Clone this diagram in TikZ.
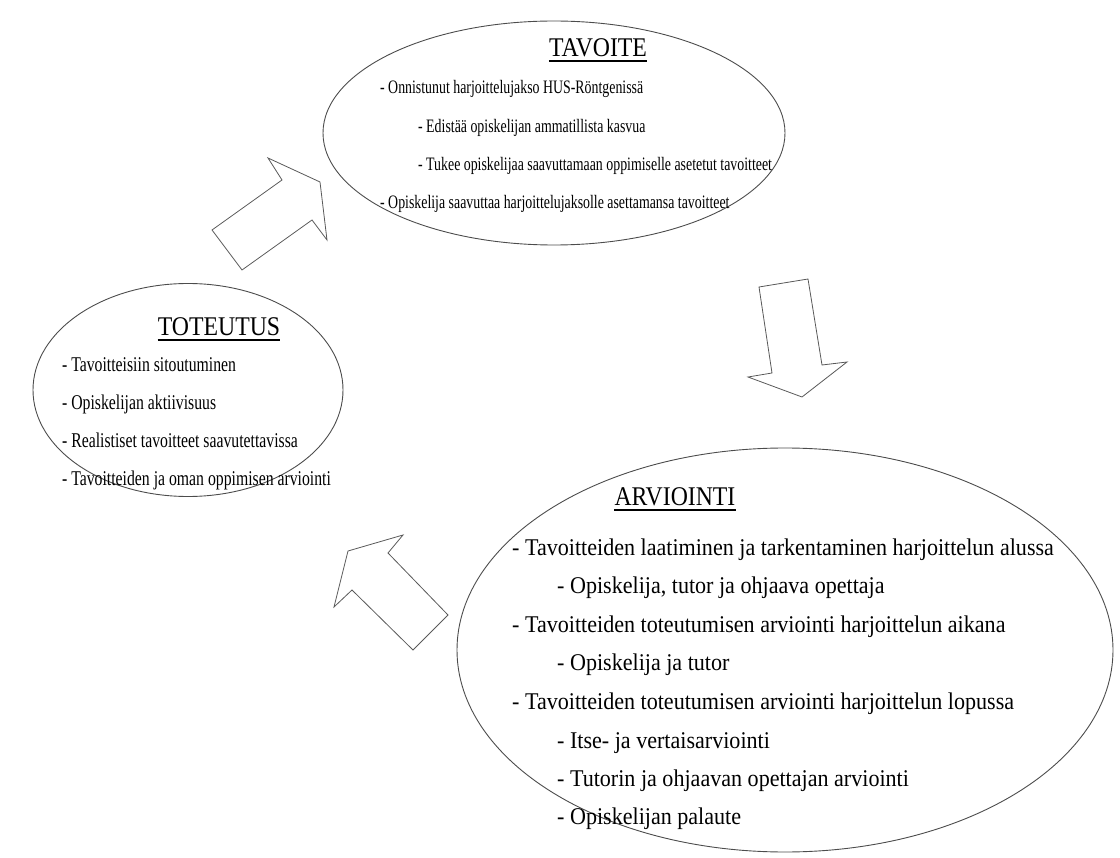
\documentclass[tikz,border=0pt]{standalone}
\usepackage{fontspec}
\setmainfont{Liberation Serif}
\usetikzlibrary{shapes.geometric}

\begin{document}
\begin{tikzpicture}[x=1pt,y=-1pt]
  \useasboundingbox (0,0) rectangle (1120,858);

  \begin{scope}[every node/.style={ellipse,draw=black!70,line width=0.9pt,inner sep=0pt}]
    \node (tav) at (554,133) [minimum width=462,minimum height=224] {};
    \node (tot) at (188,390) [minimum width=310,minimum height=213] {};
    \node (arv) at (785,650) [minimum width=656,minimum height=404] {};
  \end{scope}

  % block arrows
  \begin{scope}[draw=black!65,line width=0.8pt,line join=miter]
    \draw (212,230) -- (282,180) -- (268,158) -- (320,182) -- (327,240) -- (312,220) -- (242,270) -- cycle;
    \draw (759,287) -- (808,279) -- (822,365) -- (847,362) -- (802,397) -- (748,377) -- (772,373) -- cycle;
    \draw (403,535) -- (348,551) -- (334,607) -- (352,590) -- (413,650) -- (448,615) -- (388,553) -- cycle;
  \end{scope}

  \begin{scope}[every node/.style={anchor=base,inner sep=0pt,xscale=0.88,font=\fontsize{27}{27}\selectfont}]
    \node (tavt) at (598,57) {TAVOITE};
    \node (tott) at (219,336) {TOTEUTUS};
    \node (arvt) at (675,506) {ARVIOINTI};
  \end{scope}
  % title underlines
  \foreach \t in {tavt,tott,arvt}
    \draw[line width=1.2pt] ([yshift=-4pt]\t.base west) -- ([yshift=-4pt]\t.base east);

  \begin{scope}[every node/.style={anchor=base west,inner sep=0pt,xscale=0.73,font=\fontsize{19}{19}\selectfont}]
    \node (tav1) at (380,94)  {- Onnistunut harjoittelujakso HUS-Röntgenissä};
    \node (tav2) at (418,133) {- Edistää opiskelijan ammatillista kasvua};
    \node (tav3) at (418,171) {- Tukee opiskelijaa saavuttamaan oppimiselle asetetut tavoitteet};
    \node (tav4) at (380,209) {- Opiskelija saavuttaa harjoittelujaksolle asettamansa tavoitteet};
  \end{scope}

  \begin{scope}[every node/.style={anchor=base west,inner sep=0pt,xscale=0.75,font=\fontsize{21}{21}\selectfont}]
    \node (tot1) at (62,372) {- Tavoitteisiin sitoutuminen};
    \node (tot2) at (62,410) {- Opiskelijan aktiivisuus};
    \node (tot3) at (62,448) {- Realistiset tavoitteet saavutettavissa};
    \node (tot4) at (62,486) {- Tavoitteiden ja oman oppimisen arviointi};
  \end{scope}

  \begin{scope}[every node/.style={anchor=base west,inner sep=0pt,xscale=0.92,font=\fontsize{24}{24}\selectfont}]
    \node (arv1) at (512,555) {- Tavoitteiden laatiminen ja tarkentaminen harjoittelun alussa};
    \node (arv2) at (557,593) {- Opiskelija, tutor ja ohjaava opettaja};
    \node (arv3) at (512,632) {- Tavoitteiden toteutumisen arviointi harjoittelun aikana};
    \node (arv4) at (557,670) {- Opiskelija ja tutor};
    \node (arv5) at (512,709) {- Tavoitteiden toteutumisen arviointi harjoittelun lopussa};
    \node (arv6) at (557,748) {- Itse- ja vertaisarviointi};
    \node (arv7) at (557,786) {- Tutorin ja ohjaavan opettajan arviointi};
    \node (arv8) at (557,824) {- Opiskelijan palaute};
  \end{scope}
\end{tikzpicture}
\end{document}
